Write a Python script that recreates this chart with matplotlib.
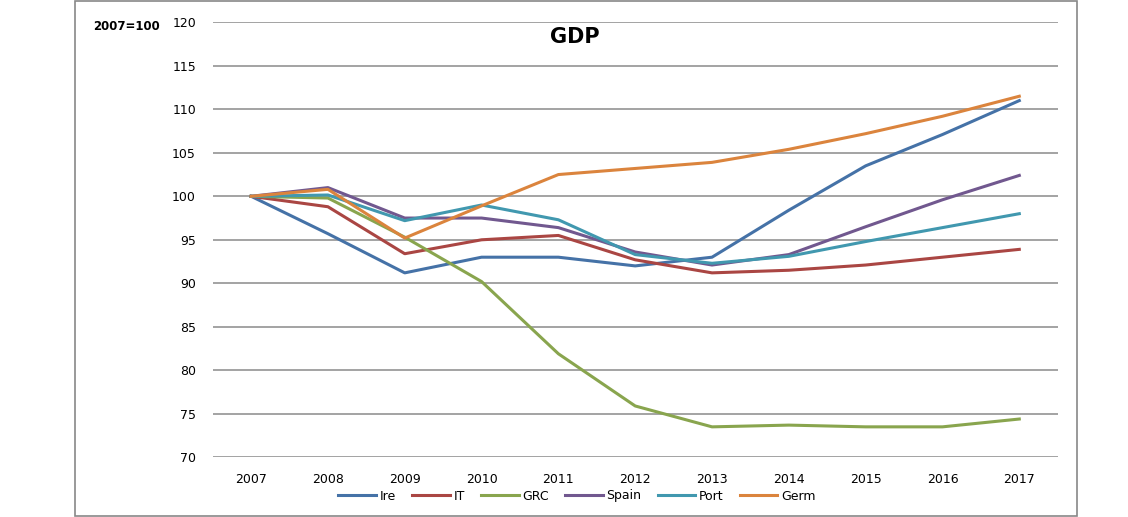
import matplotlib
matplotlib.use("Agg")
import matplotlib.pyplot as plt
from matplotlib.patches import Rectangle

years = ["2007", "2008", "2009", "2010", "2011", "2012", "2013", "2014", "2015", "2016", "2017"]
ire   = [100, 95.7, 91.2, 93.0, 93.0, 92.0, 93.0, 98.4, 103.5, 107.1, 111.0]
it    = [100, 98.8, 93.4, 95.0, 95.5, 92.7, 91.2, 91.5, 92.1, 93.0, 93.9]
grc   = [100, 99.8, 95.3, 90.2, 81.9, 75.9, 73.5, 73.7, 73.5, 73.5, 74.4]
spain = [100, 101.0, 97.5, 97.5, 96.4, 93.6, 92.1, 93.3, 96.5, 99.6, 102.4]
port  = [100, 100.15, 97.2, 99.0, 97.3, 93.3, 92.3, 93.1, 94.8, 96.4, 98.0]
germ  = [100, 100.8, 95.2, 98.9, 102.5, 103.2, 103.9, 105.4, 107.2, 109.2, 111.5]

series_names = ["Ire", "IT", "GRC", "Spain", "Port", "Germ"]
series_vals = [ire, it, grc, spain, port, germ]
colors = ["#4572A7", "#AA4643", "#89A54E", "#71588F", "#4198AF", "#DB843D"]
yticks = [70, 75, 80, 85, 90, 95, 100, 105, 110, 115, 120]

W, H = 1128, 517
fig = plt.figure(figsize=(W / 100, H / 100), dpi=100)
plt.rcParams['font.family'] = ['DejaVu Sans']

# outer chart frame
fig.patches.append(Rectangle((75 / W, 1 - 516 / H), (1077 - 75) / W, (516 - 0.8) / H,
                             transform=fig.transFigure, fill=False,
                             edgecolor="#888888", linewidth=1.2))

ax = fig.add_axes([212.7 / W, 1 - 457.3 / H, (1057.7 - 212.7) / W, (457.3 - 22.3) / H])
x = list(range(len(years)))
for name, vals, c in zip(series_names, series_vals, colors):
    ax.plot(x, vals, color=c, linewidth=2.2, label=name, solid_joinstyle="round")

ax.set_xlim(-0.5, len(years) - 0.5)
ax.set_ylim(70, 120)
ax.set_yticks(yticks)
ax.set_xticks(x)
ax.set_xticklabels(years)
ax.yaxis.grid(True, color="#8a8a8a", linewidth=1.1)
ax.set_axisbelow(True)
for s in ax.spines.values():
    s.set_visible(False)
ax.tick_params(axis="both", length=0, labelsize=9, colors="#000000")
ax.tick_params(axis="y", pad=12)
ax.tick_params(axis="x", pad=11)

fig.text(575 / W, 1 - 37 / H, "GDP", ha="center", va="center",
         fontsize=15, fontweight="bold")
fig.text(127 / W, 1 - 27 / H, "2007=100", ha="center", va="center",
         fontsize=8.5, fontweight="bold")

fig.legend(loc="center", bbox_to_anchor=(577 / W, 1 - 496 / H), ncol=6,
           frameon=False, fontsize=9, handlelength=3.0, handletextpad=0.3,
           columnspacing=1.3, borderpad=0)

fig.savefig("out.png", dpi=100)
